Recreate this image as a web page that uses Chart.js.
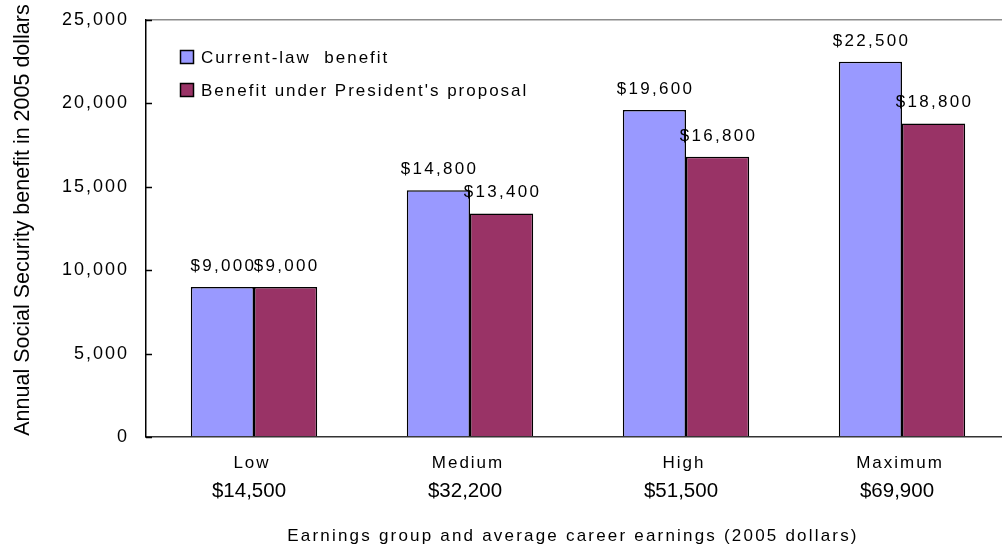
<!DOCTYPE html>
<html>
<head>
<meta charset="utf-8">
<script src="https://cdn.jsdelivr.net/npm/chart.js@4.4.0/dist/chart.umd.min.js"></script>
<style>
  html, body { margin: 0; padding: 0; overflow: hidden; background: #fff; }
  #wrap { position: relative; width: 1012px; height: 548px; }
</style>
</head>
<body>
<div id="wrap"><canvas id="benefits" width="1012" height="548"></canvas></div>
<script>
// Earnings groups and their average career earnings (2005 dollars)
const groups = ['Low', 'Medium', 'High', 'Maximum'];
const careerEarnings = ['$14,500', '$32,200', '$51,500', '$69,900'];

// Annual benefit per group
const currentLaw = [9000, 14800, 19600, 22500];
const proposal = [9000, 13400, 16800, 18800];
const seriesNames = ['Current-law  benefit', "Benefit under President's proposal"];

const yMin = 0;
const yMax = 25000;
const yStep = 5000;

const FONT = "'Liberation Sans', Arial, sans-serif";
const SPACING = '2px';

const money = v => '$' + v.toLocaleString('en-US');

// Text that Chart.js doesn't handle on its own: value labels, the
// second line of category labels, the axis titles and the legend box
const annotations = {
  id: 'annotations',
  beforeDraw(chart) {
    chart.ctx.letterSpacing = SPACING;
  },
  afterDraw(chart) {
    const ctx = chart.ctx;
    const x = chart.scales.x;
    const y = chart.scales.y;
    const area = chart.chartArea;

    ctx.save();
    ctx.strokeStyle = '#000';
    ctx.lineWidth = 1.5;

    // short tick marks pointing into the plot
    y.ticks.forEach(t => {
      const py = Math.round(y.getPixelForValue(t.value)) + 0.5;
      ctx.beginPath();
      ctx.moveTo(area.left, py);
      ctx.lineTo(area.left + 6, py);
      ctx.stroke();
    });

    // values above each bar
    ctx.fillStyle = '#000';
    ctx.font = `17px ${FONT}`;
    ctx.letterSpacing = '2.3px';
    ctx.textAlign = 'center';
    ctx.textBaseline = 'alphabetic';
    chart.data.datasets.forEach((ds, di) => {
      chart.getDatasetMeta(di).data.forEach((bar, i) => {
        ctx.fillText(money(ds.data[i]), bar.x + 1, bar.y - 16);
      });
    });

    // average career earnings under each group name
    ctx.font = `20.5px ${FONT}`;
    ctx.letterSpacing = '0px';
    careerEarnings.forEach((txt, i) => {
      ctx.fillText(txt, x.getPixelForValue(i) - 5, 497);
    });

    // x axis title
    ctx.font = `17px ${FONT}`;
    ctx.letterSpacing = '2.2px';
    ctx.fillText('Earnings group and average career earnings (2005 dollars)', 573, 541);

    // y axis title
    ctx.save();
    ctx.translate(29, 220);
    ctx.rotate(-Math.PI / 2);
    ctx.font = `21.5px ${FONT}`;
    ctx.letterSpacing = '0px';
    ctx.fillText('Annual Social Security benefit in 2005 dollars', 0, 0);
    ctx.restore();

    // legend
    const rows = [57, 90];
    ctx.textAlign = 'left';
    ctx.font = `17px ${FONT}`;
    ctx.letterSpacing = SPACING;
    chart.data.datasets.forEach((ds, di) => {
      const cy = rows[di];
      ctx.fillStyle = ds.backgroundColor;
      ctx.fillRect(180.5, cy - 6.5, 13, 13);
      ctx.strokeRect(180.5, cy - 6.5, 13, 13);
      ctx.fillStyle = '#000';
      ctx.fillText(ds.label, 201, cy + 5.5);
    });

    ctx.restore();
  }
};

new Chart(document.getElementById('benefits'), {
  type: 'bar',
  data: {
    labels: groups,
    datasets: [
      {
        label: seriesNames[0],
        data: currentLaw,
        backgroundColor: '#9999ff',
        borderColor: '#000',
        borderWidth: 1.5,
        barPercentage: 1,
        categoryPercentage: 0.585
      },
      {
        label: seriesNames[1],
        data: proposal,
        backgroundColor: '#993366',
        borderColor: '#000',
        borderWidth: 1.5,
        barPercentage: 1,
        categoryPercentage: 0.585
      }
    ]
  },
  options: {
    responsive: false,
    animation: false,
    layout: { padding: { top: 20, right: 2, left: 0, bottom: 0 } },
    plugins: {
      legend: { display: false },
      tooltip: { enabled: false }
    },
    scales: {
      x: {
        grid: { display: false, drawTicks: false },
        border: { color: '#333', width: 1.5 },
        ticks: {
          color: '#000',
          font: { family: FONT, size: 17 },
          padding: 16,
          labelOffset: -2,
          autoSkip: false,
          maxRotation: 0
        },
        afterFit: s => { s.height = 111; }
      },
      y: {
        min: yMin,
        max: yMax,
        grid: {
          drawTicks: false,
          lineWidth: 1.5,
          color: c => (c.tick && c.tick.value === yMax ? '#8c8c8c' : 'rgba(0,0,0,0)')
        },
        border: { color: '#000', width: 1.5 },
        ticks: {
          stepSize: yStep,
          color: '#000',
          font: { family: FONT, size: 18 },
          padding: 17,
          callback: v => v.toLocaleString('en-US')
        },
        // fixed axis width; the plot top is set by the layout padding alone
        afterFit: s => {
          s.width = 146;
          s.paddingTop = 0;
          s.paddingBottom = 0;
        }
      }
    }
  },
  plugins: [annotations]
});
</script>
</body>
</html>
